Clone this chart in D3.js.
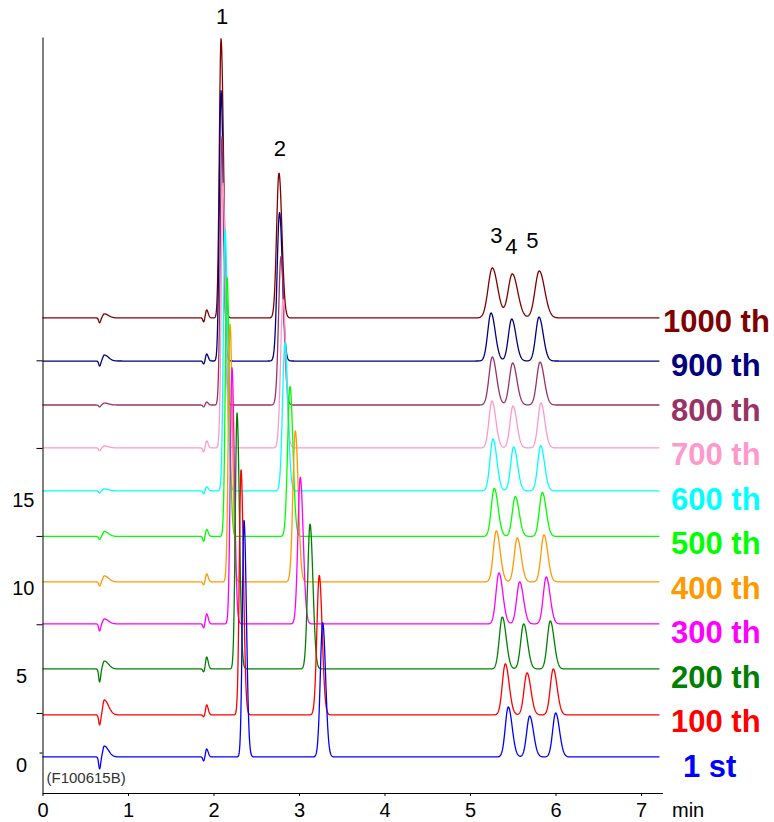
<!DOCTYPE html>
<html>
<head>
<meta charset="utf-8">
<script src="https://cdn.jsdelivr.net/npm/d3@7"></script>
<style>
	body { margin: 0; background: #fff; }
	svg { display: block; font-family: "Liberation Sans", Arial, sans-serif; }
</style>
</head>
<body>
<div id="vis"></div>
<script>
// set constants
const FRAME_WIDTH = 774;
const FRAME_HEIGHT = 822;

// runs, from the bottom trace to the top one
const RUNS = ["1 st", "100 th", "200 th", "300 th", "400 th", "500 th", "600 th", "700 th", "800 th", "900 th", "1000 th"];
const COLORS = ["#0000ff", "#ff0000", "#008000", "#ff00ff", "#ff9900", "#00ff00", "#00ffff", "#ff99cc", "#993366", "#000080", "#800000"];

// baseline of each run (signal units)
const OFFSETS = [0.45, 2.83, 5.43, 7.98, 10.36, 12.93, 15.51, 17.94, 20.37, 22.86, 25.30];

// retention times (min) and heights of peaks 1-5
const RT1 = [2.357, 2.322, 2.275, 2.216, 2.193, 2.158, 2.135, 2.111, 2.099, 2.088, 2.088];
const H1 = [13.4, 13.9, 14.5, 14.5, 14.6, 14.7, 14.8, 15.0, 15.2, 15.3, 15.8];
const RT2 = [3.277, 3.237, 3.129, 3.015, 2.957, 2.895, 2.836, 2.813, 2.789, 2.772, 2.766];
const H2 = [7.6, 7.9, 8.2, 8.3, 8.55, 8.5, 8.4, 8.4, 8.4, 8.4, 8.2];
const RT3 = [5.448, 5.413, 5.378, 5.339, 5.308, 5.284, 5.269, 5.257, 5.261, 5.246, 5.261];
const H3 = [2.83, 2.89, 2.94, 2.89, 2.89, 2.72, 2.94, 2.66, 2.72, 2.72, 2.83];
const RT4 = [5.698, 5.667, 5.628, 5.581, 5.553, 5.530, 5.511, 5.503, 5.499, 5.488, 5.495];
const H4 = [2.32, 2.38, 2.55, 2.38, 2.49, 2.26, 2.49, 2.38, 2.38, 2.38, 2.49];
const RT5 = [6.002, 5.974, 5.939, 5.892, 5.865, 5.846, 5.827, 5.830, 5.819, 5.807, 5.810];
const H5 = [2.49, 2.60, 2.72, 2.66, 2.66, 2.49, 2.55, 2.55, 2.43, 2.49, 2.66];

// peak broadening of peaks 3-5 as the column ages
const BROADENING = [1, 1, 1, 1, 1, 1, 1, 1, 1.1, 1.1, 1.4];

// small disturbances: injection dip/bump (~0.67 min) and small peak (~1.9 min)
const INJ_DIP = [0.68, 0.57, 0.74, 0.40, 0.23, 0.17, 0.11, 0.17, 0.11, 0.28, 0.28];
const INJ_BUMP = [0.62, 0.85, 0.45, 0.28, 0.34, 0.28, 0.11, 0.11, 0.11, 0.34, 0.23];
const SMALL_DIP = [0.23, 0.11, 0.17, 0.23, 0.17, 0.28, 0.17, 0.23, 0.11, 0.17, 0.23];
const SMALL_PEAK = [0.45, 0.57, 0.68, 0.57, 0.45, 0.40, 0.23, 0.40, 0.17, 0.40, 0.45];

// axes
const X_TICKS = [0, 1, 2, 3, 4, 5, 6, 7];
const Y_LABELS = [0, 5, 10, 15];
const Y_MARKS = [2.94, 7.96, 12.96, 17.94, 22.9];
const Y_MARK_SHORT = [0.7];
const PEAK_NAMES = ["1", "2", "3", "4", "5"];

const FRAME = d3.select("#vis")
	.append("svg")
		.attr("width", FRAME_WIDTH)
		.attr("height", FRAME_HEIGHT);

// scales
const X_SCALE = d3.scaleLinear()
	.domain([0, 7.25])
	.range([42.5, 42.5 + 7.25 * 85.5]);

const Y_SCALE = d3.scaleLinear()
	.domain([-1.59, 41.2])
	.range([793, 37]);

// asymmetric gaussian peak
function peak(t, rt, h, sl, sr) {
	const s = t < rt ? sl : sr;
	return h * Math.exp(-0.5 * ((t - rt) / s) ** 2);
}

function signal(i, t) {
	const b = BROADENING[i];
	let v = OFFSETS[i];
	v -= peak(t, 0.668, INJ_DIP[i], 0.011, 0.012);
	v += peak(t, 0.722, INJ_BUMP[i], 0.016, 0.05);
	v -= peak(t, 1.885, SMALL_DIP[i], 0.01, 0.01);
	v += peak(t, 1.92, SMALL_PEAK[i], 0.012, 0.018);
	v += peak(t, RT1[i], H1[i], 0.02, 0.028);
	v += peak(t, RT2[i], H2[i], 0.028, 0.034);
	v += peak(t, RT3[i], H3[i], 0.035 * b, 0.045 * b);
	v += peak(t, RT4[i], H4[i], 0.035 * b, 0.045 * b);
	v += peak(t, RT5[i], H5[i], 0.035 * b, 0.045 * b);
	return v;
}

const TIMES = d3.range(0, 7.22, 0.004);

const line = d3.line()
	.x((d) => X_SCALE(d[0]))
	.y((d) => Y_SCALE(d[1]));

// traces, top run first so the 1st run sits on top
const order = d3.range(RUNS.length).reverse();
FRAME.append("g")
	.selectAll("path")
	.data(order)
	.enter()
	.append("path")
		.attr("d", (i) => line(TIMES.map((t) => [t, signal(i, t)])))
		.attr("fill", "none")
		.attr("stroke", (i) => COLORS[i])
		.attr("stroke-width", 1.3)
		.attr("stroke-linejoin", "round");

// x axis
const xAxis = FRAME.append("g")
	.attr("transform", "translate(0,793)")
	.call(d3.axisBottom(X_SCALE).tickValues(X_TICKS).tickSize(3).tickSizeOuter(0).tickPadding(7))
	.attr("font-size", 20)
	.attr("font-family", null);
xAxis.selectAll("text").attr("fill", "#000");

FRAME.append("text")
	.attr("x", 672)
	.attr("y", 817)
	.style("font-size", "20px")
	.text("min");

// y axis with labels
const yAxis = FRAME.append("g")
	.attr("transform", "translate(42.5,0)")
	.call(d3.axisLeft(Y_SCALE).tickValues(Y_LABELS).tickSize(0).tickSizeOuter(0).tickPadding(8))
	.attr("font-size", 20)
	.attr("font-family", null);
yAxis.selectAll(".tick text")
	.attr("fill", "#000")
	.filter((d) => d < 10)
	.attr("x", -15.5);

// y tick marks
FRAME.append("g")
	.attr("transform", "translate(42.5,0)")
	.call(d3.axisLeft(Y_SCALE).tickValues(Y_MARKS).tickSize(6).tickFormat(""))
	.call((g) => g.select(".domain").remove());

FRAME.append("g")
	.attr("transform", "translate(42.5,0)")
	.call(d3.axisLeft(Y_SCALE).tickValues(Y_MARK_SHORT).tickSize(3).tickFormat(""))
	.call((g) => g.select(".domain").remove());

// run labels
FRAME.append("g")
	.selectAll("text")
	.data(d3.range(RUNS.length))
	.enter()
	.append("text")
		.attr("x", (i) => i === 10 ? 663 : (i === 0 ? 683 : 671))
		.attr("y", (i) => 776.7 - i * 44.5)
		.attr("fill", (i) => COLORS[i])
		.style("font-size", "31px")
		.style("font-weight", "bold")
		.text((i) => RUNS[i]);

// peak numbers above the top run
const TOP_RUN = RUNS.length - 1;
const PEAK_RT = [RT1[TOP_RUN], RT2[TOP_RUN], RT3[TOP_RUN], RT4[TOP_RUN], RT5[TOP_RUN]];
const PEAK_H = [H1[TOP_RUN], H2[TOP_RUN], H3[TOP_RUN], H4[TOP_RUN], H5[TOP_RUN]];
const DX = [1, 1, 4, -1, -7];
const DY = [15, 17, 25, 20, 23];
FRAME.append("g")
	.selectAll("text")
	.data(PEAK_NAMES)
	.enter()
	.append("text")
		.attr("x", (d, k) => X_SCALE(PEAK_RT[k]) + DX[k])
		.attr("y", (d, k) => Y_SCALE(OFFSETS[TOP_RUN] + PEAK_H[k]) - DY[k])
		.attr("text-anchor", "middle")
		.style("font-size", "22px")
		.text((d) => d);

// sample id
FRAME.append("text")
	.attr("x", 46.5)
	.attr("y", 783)
	.attr("fill", "#333")
	.style("font-size", "15px")
	.text("(F100615B)");
</script>
</body>
</html>
